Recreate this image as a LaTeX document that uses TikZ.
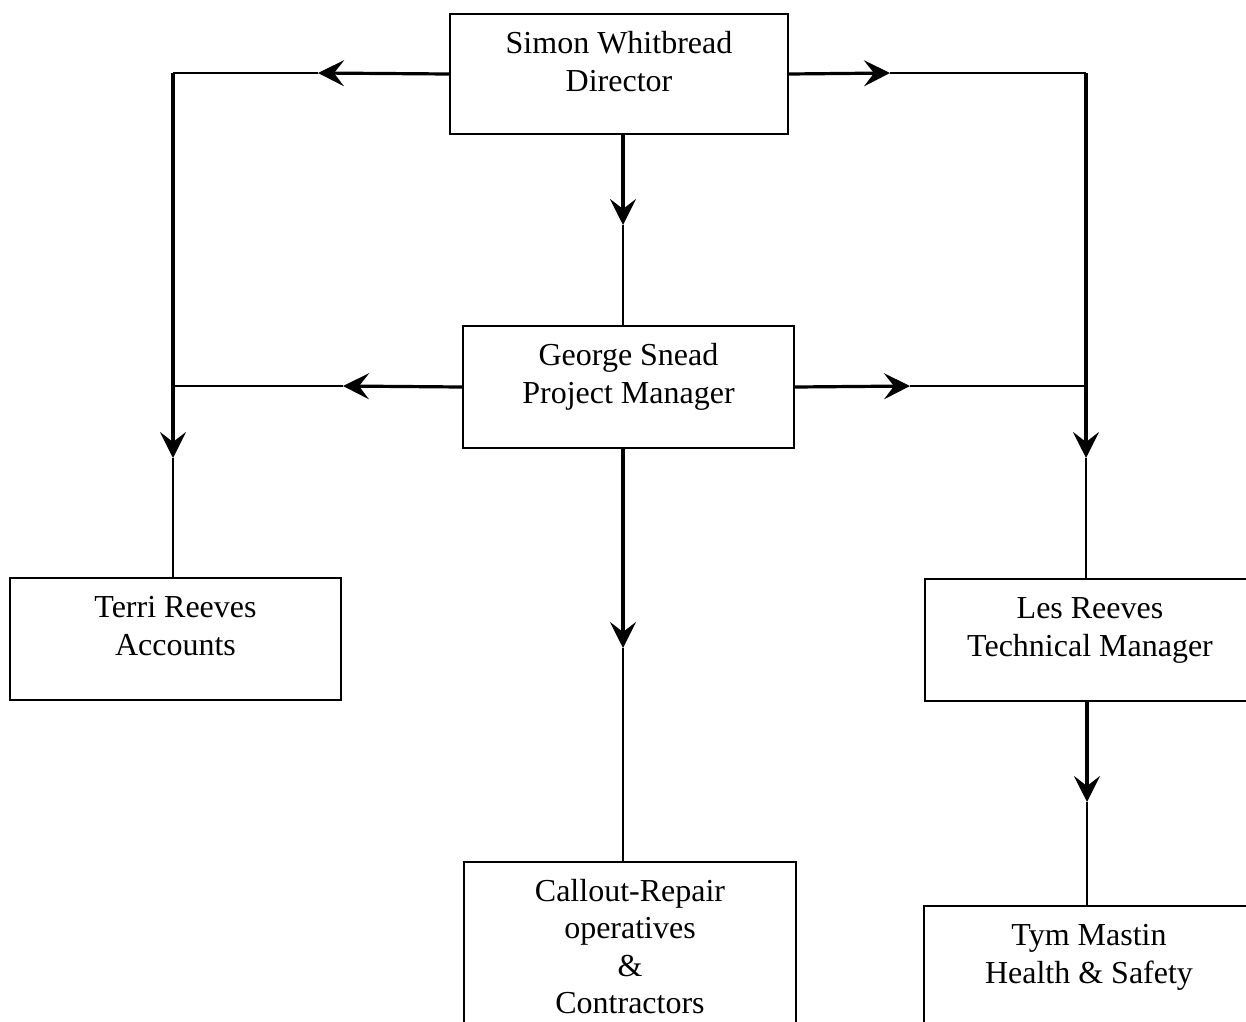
\documentclass[tikz,border=0pt]{standalone}
\usepackage{fontspec}
\setmainfont{Liberation Serif}
\usetikzlibrary{arrows.meta}
\begin{document}
\begin{tikzpicture}[x=1pt,y=-1pt,
  box/.style={draw, line width=2pt, anchor=north west, inner sep=0pt},
  lbl/.style={align=center, inner sep=0pt, anchor=base, font=\fontsize{32}{37.5}\selectfont},
  thick line/.style={line width=3.2pt, -{Stealth[length=26pt,width=26pt,inset=10pt]}},
  thin line/.style={line width=1.2pt}]
\useasboundingbox (0,0) rectangle (1246,1021);
\clip (0,0) rectangle (1246,1021);
% boxes
\node[box, minimum width=338pt, minimum height=120pt] (dir) at (449,13) {};
\node[box, minimum width=331pt, minimum height=122pt] (geo) at (462,325) {};
\node[box, minimum width=331pt, minimum height=122pt] (ter) at (9,577) {};
\node[box, minimum width=330pt, minimum height=122pt] (les) at (924,578) {};
\node[box, minimum width=332pt, minimum height=200pt] (cal) at (463,861) {};
\node[box, minimum width=330pt, minimum height=200pt] (tym) at (923,905) {};
% labels (anchor=base is the baseline of the last line)
\node[lbl] (dirT) at ([yshift=-78pt]dir.north) {Simon Whitbread\\Director};
\node[lbl] (geoT) at ([yshift=-78pt]geo.north) {George Snead\\Project Manager};
\node[lbl] (terT) at ([yshift=-78pt]ter.north) {Terri Reeves\\Accounts};
\node[lbl] (lesT) at ([yshift=-78pt]les.north) {Les Reeves\\Technical Manager};
\node[lbl] (calT) at ([yshift=-152.5pt]cal.north) {Callout-Repair\\operatives\\\&\\Contractors};
\node[lbl] (tymT) at ([yshift=-78pt]tym.north) {Tym Mastin\\Health \& Safety};
% coordinates
\coordinate (L1) at (173,73);
\coordinate (tL1) at (318,73);
\coordinate (tLv) at (173,458);
\coordinate (R1) at (1086,73);
\coordinate (tR1) at (890,73);
\coordinate (tRv) at (1086,458);
\coordinate (L2) at (173,386);
\coordinate (tL2) at (343,386);
\coordinate (R2) at (1086,386);
\coordinate (tR2) at (910,386);
\coordinate (tD) at (623,225);
\coordinate (tG) at (623,648);
\coordinate (tT) at (1087,802);
% director left / right
\draw[thick line] (dir.west) -- (tL1);
\draw[thin line] (tL1) -- (L1);
\draw[thick line] (dir.east) -- (tR1);
\draw[thin line] (tR1) -- (R1);
% verticals
\draw[thick line] (L1) -- (tLv);
\draw[thin line] (tLv) -- (tLv |- ter.north);
\draw[thick line] (R1) -- (tRv);
\draw[thin line] (tRv) -- (tRv |- les.north);
% george left/right
\draw[thick line] (geo.west) -- (tL2);
\draw[thin line] (tL2) -- (L2);
\draw[thick line] (geo.east) -- (tR2);
\draw[thin line] (tR2) -- (R2);
% downward
\draw[thick line] (tD |- dir.south) -- (tD);
\draw[thin line] (tD) -- (tD |- geo.north);
\draw[thick line] (tG |- geo.south) -- (tG);
\draw[thin line] (tG) -- (tG |- cal.north);
\draw[thick line] (tT |- les.south) -- (tT);
\draw[thin line] (tT) -- (tT |- tym.north);
\end{tikzpicture}
\end{document}
